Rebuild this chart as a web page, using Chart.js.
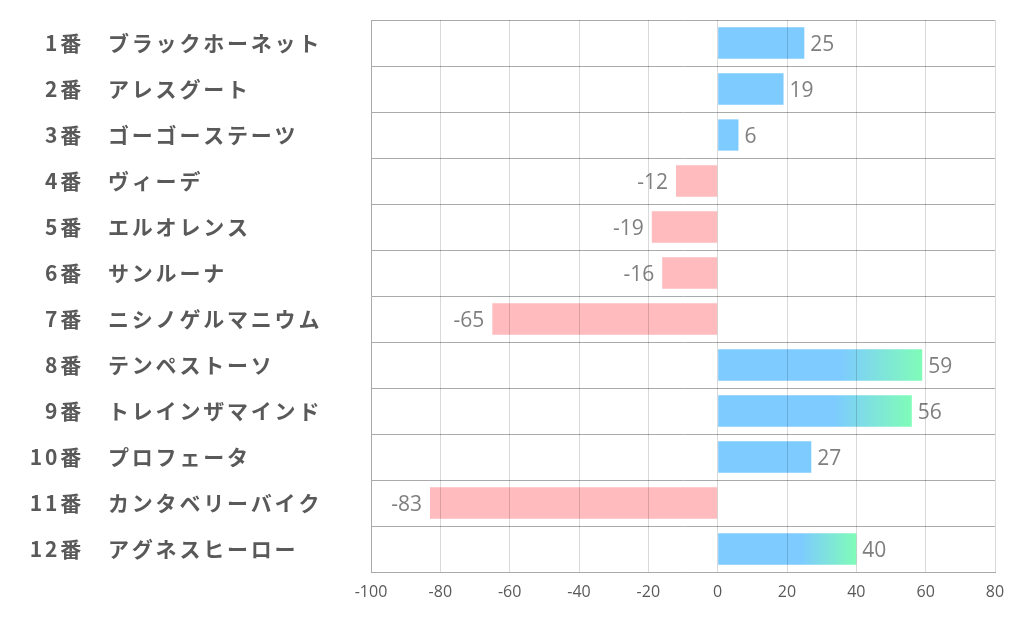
<!DOCTYPE html>
<html>
<head>
<meta charset="utf-8">
<script src="https://cdn.jsdelivr.net/npm/chart.js@4/dist/chart.umd.min.js"></script>
<style>
  html, body { margin: 0; padding: 0; background: #fff; }
  #wrap { width: 1022px; height: 626px; }
</style>
</head>
<body>
<div id="wrap"><canvas id="chart"></canvas></div>
<script>
const horseNo = ["1番", "2番", "3番", "4番", "5番", "6番", "7番", "8番", "9番", "10番", "11番", "12番"];
const horseNames = ["ブラックホーネット", "アレスグート", "ゴーゴーステーツ", "ヴィーデ", "エルオレンス", "サンルーナ",
  "ニシノゲルマニウム", "テンペストーソ", "トレインザマインド", "プロフェータ", "カンタベリーバイク", "アグネスヒーロー"];
const scores = [25, 19, 6, -12, -19, -16, -65, 59, 56, 27, -83, 40];
const xTicks = [-100, -80, -60, -40, -20, 0, 20, 40, 60, 80];

const BLUE = "#7dcbff", PINK = "#ffbbbe", GREEN = "#80fcb8";
const LABEL = "#595959", GRAY = "#7f7f7f";
const JP = "'Noto Sans CJK JP', 'Noto Sans', sans-serif";

function barColor(c) {
  const v = c.raw;
  if (v < 0) return PINK;
  if (v < 30) return BLUE;
  const chart = c.chart;
  if (!chart.chartArea) return BLUE;
  const x = chart.scales.x;
  const x0 = x.getPixelForValue(0), x1 = x.getPixelForValue(v);
  const g = chart.ctx.createLinearGradient(x0, 0, x1, 0);
  g.addColorStop(0, BLUE);
  g.addColorStop(0.6, BLUE);
  g.addColorStop(1, GREEN);
  return g;
}

// wider tracking for the japanese labels on the left
const labelSpacing = {
  id: "labelSpacing",
  beforeDraw(chart) { chart.ctx.letterSpacing = "2.8px"; },
  beforeDatasetsDraw(chart) { chart.ctx.letterSpacing = "0px"; },
};

const valueLabels = {
  id: "valueLabels",
  afterDatasetsDraw(chart) {
    const ctx = chart.ctx;
    const meta = chart.getDatasetMeta(0);
    ctx.save();
    ctx.font = "21px 'Open Sans', sans-serif";
    ctx.fillStyle = GRAY;
    ctx.textBaseline = "middle";
    meta.data.forEach((bar, i) => {
      const v = scores[i];
      if (v >= 0) { ctx.textAlign = "left"; ctx.fillText(String(v), bar.x + 6, bar.y + 2); }
      else { ctx.textAlign = "right"; ctx.fillText(String(v), bar.x - 8, bar.y + 2); }
    });
    ctx.restore();
  }
};

const noPad = s => { s.paddingTop = 0; s.paddingBottom = 0; };

new Chart(document.getElementById("chart").getContext("2d"), {
  type: "bar",
  data: {
    labels: horseNames,
    datasets: [{
      data: scores,
      xAxisID: "x",
      yAxisID: "y",
      backgroundColor: barColor,
      borderWidth: 0,
      categoryPercentage: 1,
      barPercentage: 0.68,
    }],
  },
  options: {
    indexAxis: "y",
    responsive: true,
    maintainAspectRatio: false,
    animation: false,
    layout: { padding: { top: 20, right: 27, bottom: 0, left: 0 } },
    plugins: { legend: { display: false }, tooltip: { enabled: false } },
    scales: {
      y: {
        type: "category",
        position: "left",
        weight: 0,
        offset: true,
        grid: { offset: true, color: "#aaaaaa", drawTicks: false, z: 1 },
        border: { color: "#aaaaaa", z: 2 },
        ticks: { color: LABEL, font: { family: JP, size: 21, weight: "bold" }, crossAlign: "far" },
        afterFit: s => { s.width = 263; noPad(s); },
      },
      yNum: {
        type: "category",
        labels: horseNo,
        position: "left",
        weight: 10,
        offset: true,
        grid: { display: false, offset: true, drawTicks: false },
        border: { display: false },
        ticks: { color: LABEL, font: { family: JP, size: 21, weight: "bold" }, crossAlign: "near", padding: 24 },
        afterFit: s => { s.width = 108; noPad(s); },
      },
      x: {
        min: -100,
        max: 80,
        afterBuildTicks: s => { s.ticks = xTicks.map(v => ({ value: v })); },
        grid: { color: "rgba(0,0,0,0.15)", drawTicks: false, z: 1 },
        border: { color: "#aaaaaa", z: 2 },
        ticks: { color: LABEL, font: { family: "'Open Sans', sans-serif", size: 16 }, padding: 11, z: 1 },
        afterFit: s => { s.height = 54; },
      },
    },
  },
  plugins: [labelSpacing, valueLabels],
});
</script>
</body>
</html>
